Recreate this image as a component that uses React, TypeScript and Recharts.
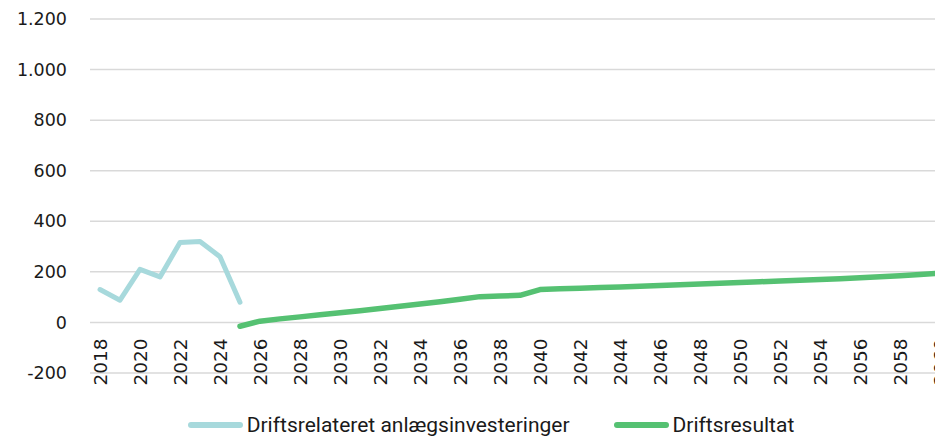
import { LineChart, Line, XAxis, YAxis, CartesianGrid } from 'recharts';

const years = [
  2018, 2019, 2020, 2021, 2022, 2023, 2024, 2025, 2026, 2027, 2028, 2029, 2030, 2031,
  2032, 2033, 2034, 2035, 2036, 2037, 2038, 2039, 2040, 2041, 2042, 2043, 2044, 2045,
  2046, 2047, 2048, 2049, 2050, 2051, 2052, 2053, 2054, 2055, 2056, 2057, 2058, 2059, 2060,
];

// 2018-2025
const investeringer = [130, 88, 210, 180, 316, 320, 260, 80];

// 2025-2060
const driftsresultat = [
  -15, 5, 14, 22, 30, 38, 46, 55, 64, 73, 82, 92, 102, 105, 107, 130, 133, 135, 138, 140,
  143, 146, 149, 152, 155, 158, 161, 164, 167, 170, 173, 177, 181, 185, 190, 195,
];

const yTicks = [-200, 0, 200, 400, 600, 800, 1000, 1200];

const TEAL = '#a7d9dc';
const GREEN = '#55c172';
const FONT = '"DejaVu Sans", sans-serif';

const CHART_W = 960;
const CHART_H = 380;
const TOP = 11;
const PLOT_H = 354;
const zeroY = TOP + (PLOT_H * 1200) / 1400;

const data = years.map((year, i) => ({
  year: String(year),
  inv: i < investeringer.length ? investeringer[i] : null,
  drift: i >= 7 ? driftsresultat[i - 7] : null,
}));

const fmt = (v: number) => v.toLocaleString('da-DK');

const YearTick = (props: any) => {
  const { x, payload } = props;
  return (
    <text
      transform={`translate(${x + 6.5},${zeroY + 16}) rotate(-90)`}
      textAnchor="end"
      fontSize={18.5}
      fontFamily={FONT}
      fill="#1a1a1a"
    >
      {payload.value}
    </text>
  );
};

const legendItems = [
  { label: 'Driftsrelateret anlægsinvesteringer', color: TEAL },
  { label: 'Driftsresultat', color: GREEN },
];

export default function App() {
  return (
    <div style={{ position: 'relative', width: 935, height: 428, overflow: 'hidden' }}>
      <LineChart
        width={CHART_W}
        height={CHART_H}
        data={data}
        margin={{ top: TOP, right: 18, left: 0, bottom: 0 }}
      >
        <CartesianGrid vertical={false} stroke="#d9d9d9" strokeWidth={1.5} />
        <XAxis
          dataKey="year"
          interval={1}
          padding={{ left: 10, right: 10 }}
          axisLine={false}
          tickLine={false}
          height={15}
          tick={<YearTick />}
        />
        <YAxis
          domain={[-200, 1200]}
          ticks={yTicks}
          width={82}
          axisLine={false}
          tickLine={false}
          tickSize={0}
          tickMargin={23}
          tickFormatter={fmt}
          tick={{ fontSize: 17.5, fontFamily: FONT, fill: '#1a1a1a' }}
        />
        <Line
          dataKey="inv"
          stroke={TEAL}
          strokeWidth={5}
          dot={false}
          strokeLinejoin="round"
          strokeLinecap="round"
          isAnimationActive={false}
        />
        <Line
          dataKey="drift"
          stroke={GREEN}
          strokeWidth={5.5}
          dot={false}
          strokeLinejoin="round"
          strokeLinecap="round"
          isAnimationActive={false}
        />
      </LineChart>
      <div
        style={{
          position: 'absolute',
          top: 402,
          left: 3,
          width: CHART_W,
          display: 'flex',
          justifyContent: 'center',
          gap: 44,
          fontFamily: 'Roboto, sans-serif',
          fontSize: 21,
          color: '#1a1a1a',
          lineHeight: '30px',
        }}
      >
        {legendItems.map((it) => (
          <div key={it.label} style={{ display: 'flex', alignItems: 'center' }}>
            <span
              style={{
                display: 'inline-block',
                width: 55,
                height: 6,
                borderRadius: 3,
                background: it.color,
                marginRight: 4,
              }}
            />
            <span>{it.label}</span>
          </div>
        ))}
      </div>
    </div>
  );
}
